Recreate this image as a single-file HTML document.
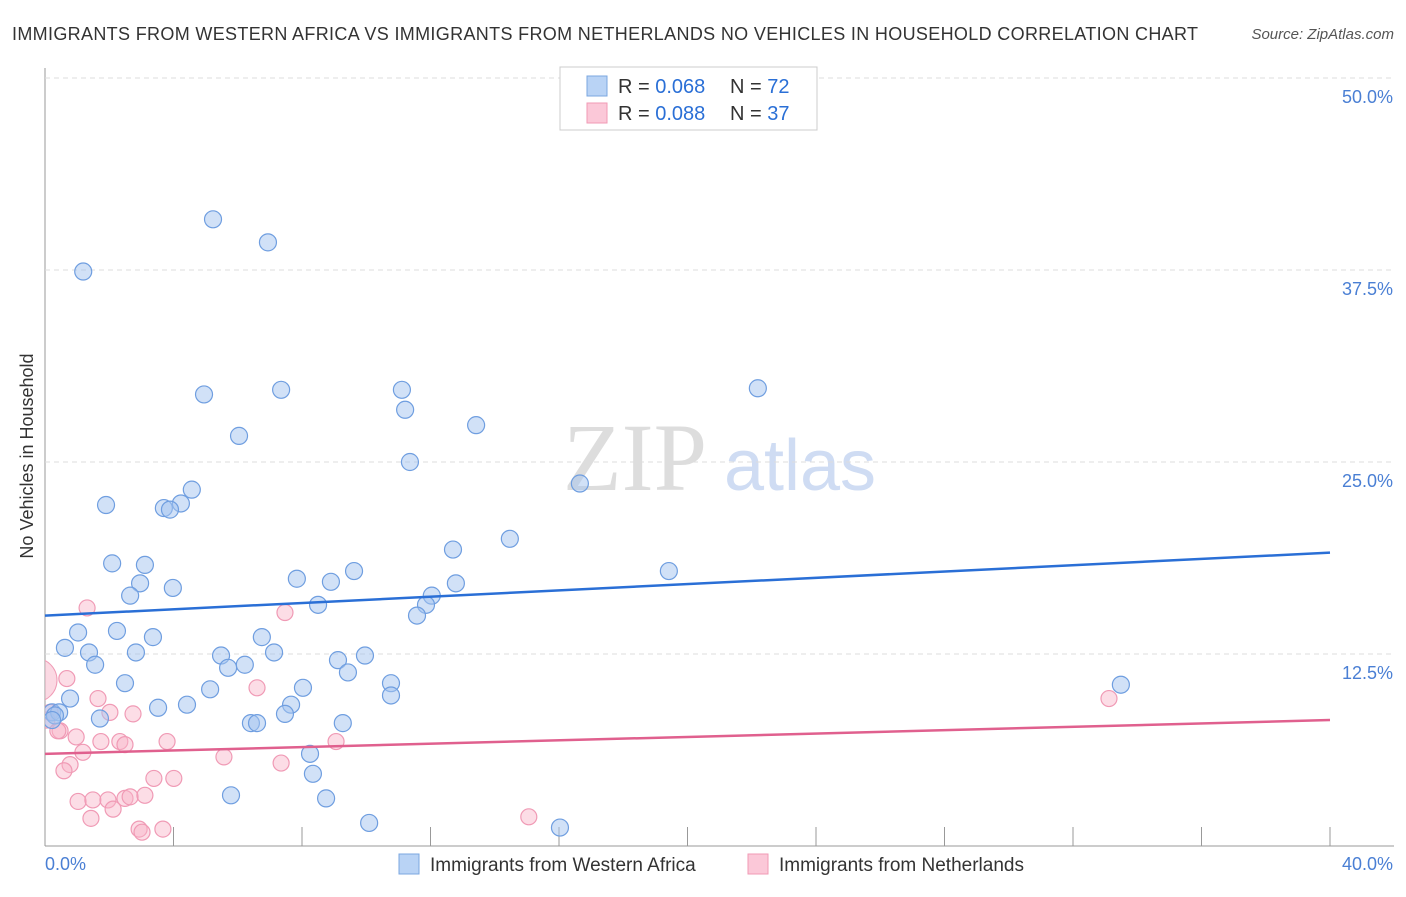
<!DOCTYPE html>
<html><head><meta charset="utf-8"><style>
body{margin:0;background:#fff;font-family:"Liberation Sans",sans-serif;}
</style></head><body>
<svg id="chart" width="1406" height="892" xmlns="http://www.w3.org/2000/svg">
<text x="12" y="40" font-size="18" textLength="1186" fill="#333">IMMIGRANTS FROM WESTERN AFRICA VS IMMIGRANTS FROM NETHERLANDS NO VEHICLES IN HOUSEHOLD CORRELATION CHART</text>
<text x="1394" y="39" font-size="15" fill="#555" font-style="italic" text-anchor="end">Source: ZipAtlas.com</text>
<text x="33" y="456" font-size="18" fill="#333" transform="rotate(-90 33 456)" text-anchor="middle">No Vehicles in Household</text>
<text x="635" y="490" font-size="96" fill="#ddd" font-family="Liberation Serif,serif" text-anchor="middle">ZIP</text>
<text x="800" y="490" font-size="72" fill="#cfdcf3" text-anchor="middle">atlas</text>
<g id="grid"></g><g id="pts"></g><g id="lines"></g>
<g>
<rect x="560" y="67" width="257" height="63" fill="#fff" stroke="#ccc"/>
<rect x="587" y="76" width="20" height="20" fill="#b9d3f5" stroke="#7ba7e0"/>
<rect x="587" y="103" width="20" height="20" fill="#fbc8d8" stroke="#f09ab5"/>
<text x="618" y="93" font-size="20" fill="#333">R = <tspan fill="#2a6fd6">0.068</tspan><tspan x="730">N = </tspan><tspan fill="#2a6fd6">72</tspan></text>
<text x="618" y="120" font-size="20" fill="#333">R = <tspan fill="#2a6fd6">0.088</tspan><tspan x="730">N = </tspan><tspan fill="#2a6fd6">37</tspan></text>
</g>
<g>
<rect x="399" y="854" width="20" height="20" fill="#b9d3f5" stroke="#7ba7e0"/>
<text x="430" y="871" font-size="19" fill="#333">Immigrants from Western Africa</text>
<rect x="748" y="854" width="20" height="20" fill="#fbc8d8" stroke="#f09ab5"/>
<text x="779" y="871" font-size="19" fill="#333">Immigrants from Netherlands</text>
</g>
</svg>
<script>
const yTicks=[12.5,25,37.5,50];
const xLabels=["0.0%","40.0%"];
const blueX=[1.19,5.23,6.94,4.95,7.35,11.11,22.19,11.21,6.04,13.42,11.36,16.65,1.9,4.57,4.23,3.7,3.89,14.47,12.7,2.09,3.11,2.96,3.98,2.65,7.84,8.9,9.62,12.79,19.42,12.04,11.86,8.5,11.58,2.24,3.36,1.03,0.62,1.37,2.83,6.75,5.48,7.13,1.56,6.22,5.7,9.12,9.96,9.43,2.49,5.14,8.03,10.77,10.77,33.49,0.78,0.22,0.44,0.31,1.71,4.42,3.52,7.66,7.47,9.27,6.41,6.6,8.25,8.34,5.79,8.75,10.09,16.03,0.22];
const blueY=[37.4,40.8,39.3,29.4,29.7,29.7,29.8,28.4,26.7,27.4,25.0,23.6,22.2,23.2,22.3,22.0,21.9,20.0,19.3,18.4,18.3,17.1,16.8,16.3,17.4,17.2,17.9,17.1,17.9,16.3,15.7,15.7,15.0,14.0,13.6,13.9,12.9,12.6,12.6,13.6,12.4,12.6,11.8,11.8,11.6,12.1,12.4,11.3,10.6,10.2,10.3,10.6,9.8,10.5,9.6,8.7,8.7,8.5,8.3,9.2,9.0,9.2,8.6,8.0,8.0,8.0,6.0,4.7,3.3,3.1,1.5,1.2,8.2];
const pinkX=[1.31,7.47,0.68,1.65,6.6,2.02,2.74,0.16,0.47,0.97,1.74,2.33,2.49,3.8,1.18,5.57,0.78,7.35,9.06,0.59,3.39,4.01,1.03,1.49,1.96,2.49,2.65,3.11,2.12,1.43,2.93,3.02,3.67,15.06,33.12,0.06,0.4];
const pinkY=[15.5,15.2,10.9,9.6,10.3,8.7,8.6,8.7,7.5,7.1,6.8,6.8,6.6,6.8,6.1,5.8,5.3,5.4,6.8,4.9,4.4,4.4,2.9,3.0,3.0,3.1,3.2,3.3,2.4,1.8,1.1,0.9,1.1,1.9,9.6,8.2,7.5];
const blueTrend=[15.0,19.1], pinkTrend=[6.0,8.2];
const X0=45,X1=1330,Y0=846,Y1=78;
const xs=v=>X0+(v/40)*(X1-X0), ys=v=>Y0-(v/50)*(Y0-Y1);
const NS="http://www.w3.org/2000/svg";
const g=document.getElementById('grid'),p=document.getElementById('pts'),l=document.getElementById('lines');
function mk(tag,par,at){const e=document.createElementNS(NS,tag);for(const k in at)e.setAttribute(k,at[k]);par.appendChild(e);return e;}
let ax=mk('line',g,{x1:X0,x2:X0,y1:68,y2:Y0,stroke:'#999'});


let bx=mk('line',g,{x1:X0,x2:1394,y1:Y0,y2:Y0,stroke:'#999'});


for(let i=0;i<=10;i++){const t=mk('line',g,{x1:xs(i*4),x2:xs(i*4),y1:Y0,y2:827,stroke:'#999'});

}
yTicks.forEach(v=>{const y=ys(v);const gl=mk('line',g,{x1:X0,x2:1394,y1:y,y2:y,stroke:'#ddd','stroke-dasharray':'5,4'});


const t=mk('text',g,{x:1393,y:y+25,'font-size':18,fill:'#4a7fd4','text-anchor':'end'});t.textContent=v.toFixed(1)+'%';

});
xLabels.forEach((s,i)=>{const t=mk('text',g,{x:i?1393:45,y:870,'font-size':18,fill:'#4a7fd4','text-anchor':i?'end':'start'});t.textContent=s;

});
const clip=mk('clipPath',g,{id:'pc'});mk('rect',clip,{x:X0,y:60,width:1350,height:786});
p.setAttribute('clip-path','url(#pc)');
const big=mk('circle',p,{cx:35,cy:ys(10.8),r:22,fill:'rgba(248,180,200,0.5)',stroke:'#f09ab5'});


pinkX.forEach((v,i)=>{const c=mk('circle',p,{cx:xs(v),cy:ys(pinkY[i]),r:8,fill:'rgba(248,180,200,0.45)',stroke:'#f09ab5','stroke-width':1.2});

});
blueX.forEach((v,i)=>{const c=mk('circle',p,{cx:xs(v),cy:ys(blueY[i]),r:8.5,fill:'rgba(164,196,240,0.5)',stroke:'#6f9ee0','stroke-width':1.2});

});
const b=mk('line',l,{x1:X0,x2:X1,y1:ys(blueTrend[0]),y2:ys(blueTrend[1]),stroke:'#2a6fd6','stroke-width':2.5});


const pk=mk('line',l,{x1:X0,x2:X1,y1:ys(pinkTrend[0]),y2:ys(pinkTrend[1]),stroke:'#e0608e','stroke-width':2.5});


</script>
</body></html>
